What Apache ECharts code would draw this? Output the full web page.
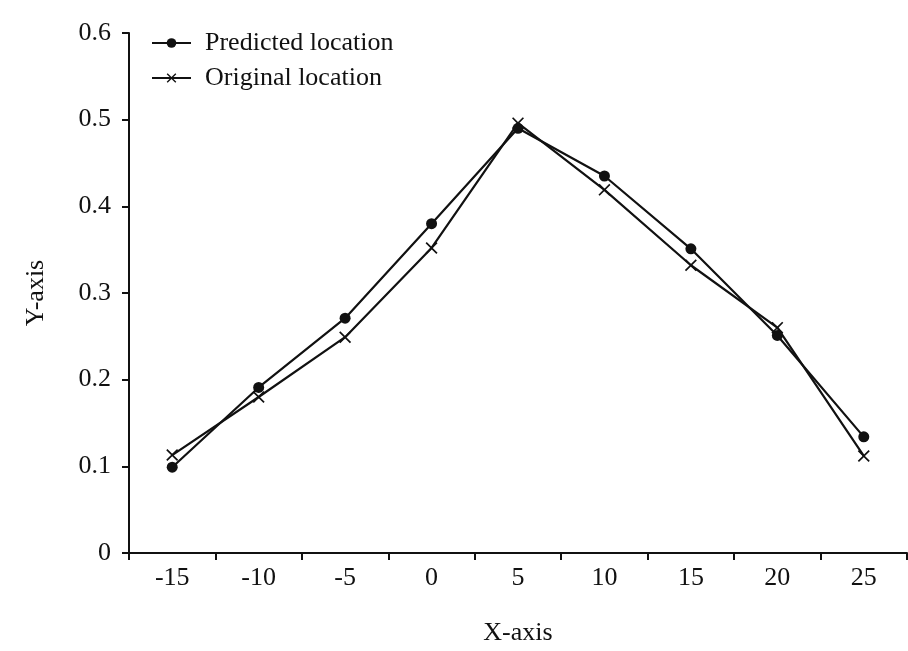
<!DOCTYPE html>
<html>
<head>
    <meta charset="utf-8">
    <title>Location</title>
    <script src="https://cdn.jsdelivr.net/npm/echarts@6/dist/echarts.min.js"></script>
    <style>
        html, body { margin: 0; padding: 0; background: #fff; }
        #chart { width: 908px; height: 651px; }
    </style>
</head>
<body>
<div id="chart"></div>
<script>
    var categories = ['-15', '-10', '-5', '0', '5', '10', '15', '20', '25'];
    var predicted = [0.099, 0.191, 0.271, 0.380, 0.490, 0.435, 0.351, 0.251, 0.134];
    var original = [0.113, 0.180, 0.249, 0.352, 0.496, 0.419, 0.332, 0.260, 0.112];

    var font = 'Liberation Serif';
    // x-shaped marker for the original series
    var crossPath = 'path://M0,1L1,0L5,4L9,0L10,1L6,5L10,9L9,10L5,6L1,10L0,9L4,5Z';

    var chart = echarts.init(document.getElementById('chart'));
    chart.setOption({
        animation: false,
        textStyle: { fontFamily: font, color: '#111' },
        grid: { left: 129, right: 1, top: 33, bottom: 98 },
        legend: {
            left: 146,
            top: 25,
            orient: 'vertical',
            itemGap: 9,
            itemWidth: 39,
            itemHeight: 12,
            textStyle: { fontFamily: font, fontSize: 26, color: '#111', padding: [0, 0, 0, 9] },
            data: ['Predicted location', 'Original location']
        },
        xAxis: {
            type: 'category',
            data: categories,
            boundaryGap: true,
            name: 'X-axis',
            nameLocation: 'middle',
            nameGap: 67,
            nameTextStyle: { fontFamily: font, fontSize: 26, color: '#111' },
            axisLine: { lineStyle: { color: '#111', width: 2 } },
            axisTick: { show: true, length: 7, lineStyle: { color: '#111', width: 2 } },
            axisLabel: { fontFamily: font, fontSize: 26, color: '#111', margin: 12 },
            splitLine: { show: false }
        },
        yAxis: {
            type: 'value',
            min: 0,
            max: 0.6,
            interval: 0.1,
            name: 'Y-axis',
            nameLocation: 'middle',
            nameGap: 80,
            nameRotate: 90,
            nameTextStyle: { fontFamily: font, fontSize: 26, color: '#111' },
            axisLine: { show: true, lineStyle: { color: '#111', width: 2 } },
            axisTick: { show: true, length: 7, lineStyle: { color: '#111', width: 2 } },
            axisLabel: {
                fontFamily: font, fontSize: 26, color: '#111', margin: 18,
                formatter: function (v) { return v === 0 ? '0' : v.toFixed(1); }
            },
            splitLine: { show: false }
        },
        series: [
            {
                name: 'Predicted location',
                type: 'line',
                data: predicted,
                symbol: 'circle',
                symbolSize: 11,
                lineStyle: { color: '#111', width: 2.2 },
                itemStyle: { color: '#111' }
            },
            {
                name: 'Original location',
                type: 'line',
                data: original,
                symbol: crossPath,
                symbolSize: 12,
                lineStyle: { color: '#111', width: 2.2 },
                itemStyle: { color: '#111' }
            }
        ]
    });
</script>
</body>
</html>
